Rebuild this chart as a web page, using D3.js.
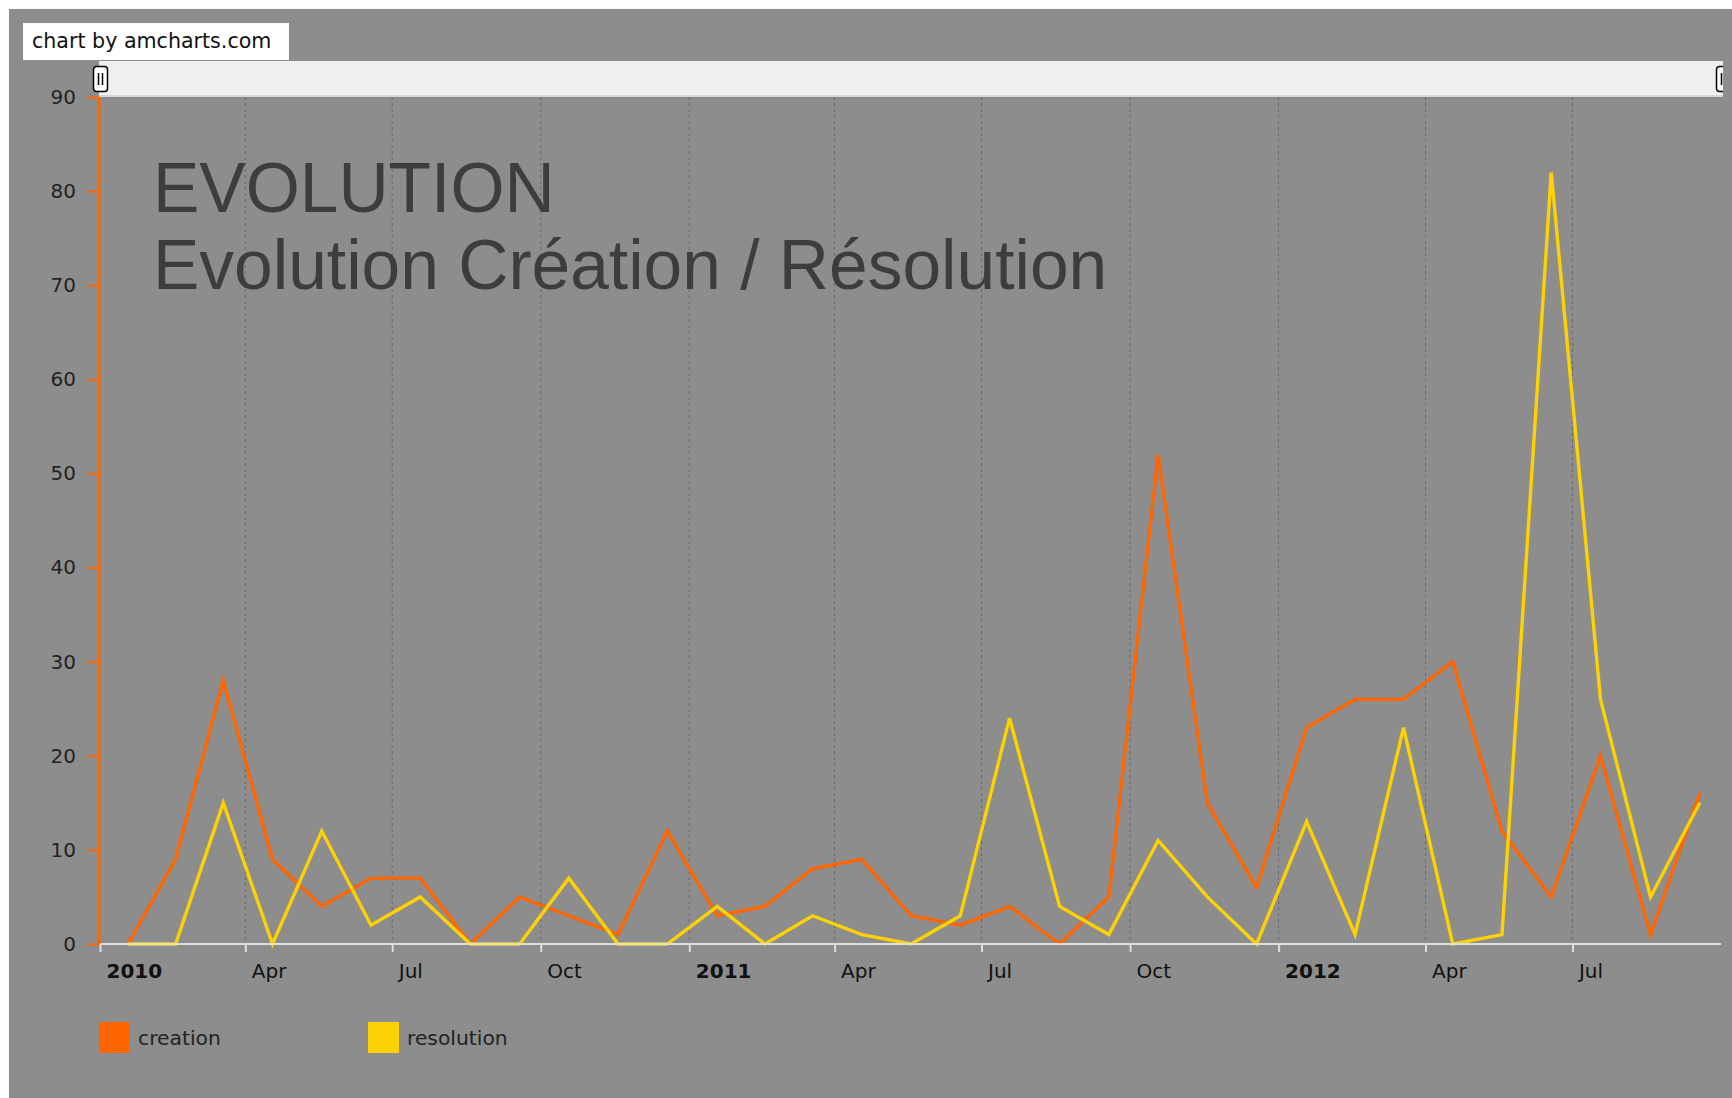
<!DOCTYPE html>
<html><head><meta charset="utf-8">
<script src="https://cdn.jsdelivr.net/npm/d3@7"></script>
<style>html,body{margin:0;padding:0;background:#fff;overflow:hidden}svg{display:block}</style>
</head><body>
<svg id="chart" width="1732" height="1098"></svg>
<script>
const months = ["2010-01","2010-02","2010-03","2010-04","2010-05","2010-06","2010-07","2010-08","2010-09","2010-10","2010-11","2010-12",
  "2011-01","2011-02","2011-03","2011-04","2011-05","2011-06","2011-07","2011-08","2011-09","2011-10","2011-11","2011-12",
  "2012-01","2012-02","2012-03","2012-04","2012-05","2012-06","2012-07","2012-08","2012-09"];
const creation   = [0,9,28,9,4,7,7,0,5,3,1,12, 3,4,8,9,3,2,4,0,5,52,15,6, 23,26,26,30,12,5,20,1,16];
const resolution = [0,0,15,0,12,2,5,0,0,7,0,0, 4,0,3,1,0,3,24,4,1,11,5,0, 13,1,23,0,1,82,26,5,15];
const yTicks = [0,10,20,30,40,50,60,70,80,90];
const seriesNames = ["creation","resolution"];
const seriesColors = ["#FF6600","#FCD202"];
const titleLines = ["EVOLUTION","Evolution Création / Résolution"];
const credit = "chart by amcharts.com";
const monthNames = ["Jan","Feb","Mar","Apr","May","Jun","Jul","Aug","Sep","Oct","Nov","Dec"];

const svg = d3.select("#chart");
const FONT = "DejaVu Sans, Verdana, sans-serif";
const plot = {left:100, right:1721, top:97, bottom:944};

svg.append("rect").attr("x",9).attr("y",9).attr("width",1723).attr("height",1089).attr("fill","#8d8d8d");

const parse = d3.utcParse("%Y-%m");
const dates = months.map(parse);
const x = d3.scaleUtc().domain([parse("2010-01"), parse("2012-10")]).range([plot.left, plot.right]);
const y = d3.scaleLinear().domain([0,90]).range([plot.bottom, plot.top]);
const xMid = d => (x(d) + x(d3.utcMonth.offset(d,1)))/2 + 3;

// grid
const ticks = x.ticks(d3.utcMonth.every(3)).filter(t => t < x.domain()[1]);
svg.append("g").selectAll("line").data(ticks.filter((t,i)=>i>0)).join("line")
  .attr("x1",d=>x(d)).attr("x2",d=>x(d)).attr("y1",plot.top).attr("y2",plot.bottom)
  .attr("stroke","#6a6a6a").attr("stroke-width",1).attr("stroke-dasharray","3,3");

// title
const title = svg.append("text").attr("fill","#3d3d3d")
  .attr("font-family","Liberation Sans, Arial, sans-serif").attr("font-size",69.5);
title.selectAll("tspan").data(titleLines).join("tspan")
  .attr("x",153).attr("y",(d,i)=>212+i*77).text(d=>d);

// clip
svg.append("clipPath").attr("id","plotclip").append("rect")
  .attr("x",plot.left).attr("y",plot.top-5).attr("width",plot.right-plot.left).attr("height",plot.bottom-plot.top+10);

const line = d3.line().x((d,i)=>xMid(dates[i])).y(d=>y(d));
const lines = svg.append("g").attr("clip-path","url(#plotclip)");
[creation, resolution].forEach((s,k)=>{
  lines.append("path").datum(s).attr("d",line).attr("fill","none")
    .attr("stroke",seriesColors[k]).attr("stroke-width",3.4).attr("stroke-linejoin","miter");
});

// x axis
const xAxis = d3.axisBottom(x).tickValues(ticks).tickSize(8).tickFormat("");
const gx = svg.append("g").attr("transform",`translate(0,${plot.bottom})`).call(xAxis);
gx.select(".domain").attr("stroke","#dedede").attr("stroke-width",2).attr("d",`M${plot.left},0H${plot.right}`);
gx.selectAll(".tick line").attr("stroke","#dedede").attr("stroke-width",2);
gx.selectAll(".tick").append("text")
  .attr("x",6).attr("y",34).attr("text-anchor","start").attr("fill","#111")
  .attr("font-family",FONT).attr("font-size",20)
  .attr("font-weight",d=>d.getUTCMonth()===0?"bold":"normal")
  .text(d=>d.getUTCMonth()===0?d.getUTCFullYear():monthNames[d.getUTCMonth()]);

// y axis
const yAxis = d3.axisLeft(y).tickValues(yTicks).tickSize(11).tickPadding(12);
const gy = svg.append("g").attr("transform",`translate(${plot.left-1},0)`).call(yAxis);
gy.select(".domain").attr("stroke","#FF6600").attr("stroke-width",3).attr("d",`M0,${plot.top}V${plot.bottom}`);
gy.selectAll(".tick line").attr("stroke","#FF6600").attr("stroke-width",2);
gy.selectAll(".tick text").attr("fill","#222").attr("font-family",FONT).attr("font-size",20);

// scrollbar
svg.append("rect").attr("x",99).attr("y",61).attr("width",1624).attr("height",36).attr("fill","#efefef");
svg.append("rect").attr("x",99).attr("y",95).attr("width",1624).attr("height",2).attr("fill","#d8d8d8");
svg.append("clipPath").attr("id","sclip").append("rect").attr("x",0).attr("y",0).attr("width",1723).attr("height",1098);
const grips = svg.append("g").attr("clip-path","url(#sclip)");
[93,1716].forEach(gx0=>{
  const g = grips.append("g").attr("transform",`translate(${gx0},66)`);
  g.append("rect").attr("x",0.5).attr("y",0.5).attr("width",14).attr("height",25).attr("rx",3)
    .attr("fill","#fff").attr("stroke","#000").attr("stroke-width",1.5);
  g.append("line").attr("x1",5.5).attr("x2",5.5).attr("y1",7).attr("y2",19).attr("stroke","#000").attr("stroke-width",1.5);
  g.append("line").attr("x1",9.5).attr("x2",9.5).attr("y1",7).attr("y2",19).attr("stroke","#000").attr("stroke-width",1.5);
});

// credit
svg.append("rect").attr("x",23).attr("y",23).attr("width",266).attr("height",37).attr("fill","#fff");
svg.append("text").attr("x",32).attr("y",48).attr("fill","#111").attr("font-family",FONT).attr("font-size",20.6).text(credit);

// legend
const legendX = [99,368];
const lg = svg.append("g").selectAll("g").data(seriesNames).join("g")
  .attr("transform",(d,i)=>`translate(${legendX[i]},1022)`);
lg.append("rect").attr("width",31).attr("height",31).attr("fill",(d,i)=>seriesColors[i]);
lg.append("text").attr("x",39).attr("y",23).attr("fill","#222").attr("font-family",FONT).attr("font-size",20.3).text(d=>d);
</script>
</body></html>
